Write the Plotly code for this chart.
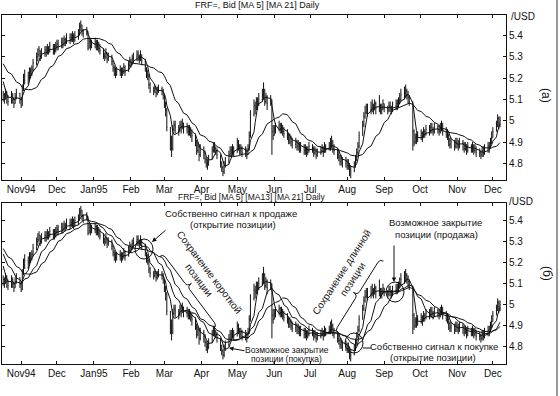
import pandas as pd
import plotly.graph_objects as go

# ---------------- data (USD/FRF daily) ----------------
# closes before the visible window (only used to start the moving averages)
close_pre = [5.31, 5.32, 5.30, 5.33, 5.31, 5.30, 5.29, 5.31, 5.28, 5.29,
             5.29, 5.30, 5.28, 5.27, 5.26, 5.25, 5.23, 5.21, 5.19, 5.17]

close = [
    5.12, 5.10, 5.13, 5.11, 5.09,  5.12, 5.10, 5.08, 5.11, 5.13,
    5.10, 5.07, 5.15, 5.19, 5.21,  5.20, 5.23, 5.22, 5.24, 5.27,
    5.30, 5.31, 5.33, 5.30, 5.32,  5.33, 5.32, 5.34, 5.33, 5.35,
    5.34, 5.33, 5.35, 5.36, 5.35,  5.37, 5.36, 5.38, 5.37, 5.39,
    5.38, 5.39, 5.40, 5.38, 5.40,  5.41, 5.44, 5.45, 5.42, 5.41,
    5.42, 5.34, 5.37, 5.35, 5.36,  5.37, 5.35, 5.36, 5.34, 5.33,
    5.31, 5.30, 5.32, 5.29, 5.30,  5.28, 5.25, 5.24, 5.22, 5.23,
    5.24, 5.22, 5.23, 5.25, 5.23,  5.26, 5.28, 5.27, 5.29, 5.30,
    5.31, 5.30, 5.29, 5.31, 5.28,  5.25, 5.22, 5.21, 5.17, 5.15,
    5.14, 5.15, 5.13, 5.14, 5.15,  5.14, 5.12, 5.08, 5.05, 4.97,
    4.90, 4.87, 4.96, 4.98, 4.97,  4.95, 4.98, 4.97, 4.99, 4.96,
    4.97, 4.95, 4.96, 4.94, 4.93,  4.90, 4.86, 4.88, 4.84, 4.87,
    4.85, 4.82, 4.80, 4.79, 4.82,  4.86, 4.88, 4.87, 4.86, 4.84,
    4.80, 4.78, 4.76, 4.79, 4.81,  4.84, 4.86, 4.85, 4.87, 4.85,
    4.90, 4.88, 4.86, 4.87, 4.85,  4.86, 4.84, 4.87, 4.93, 5.03,
    5.07, 5.06, 5.09, 5.08, 5.10,  5.12, 5.14, 5.09, 5.11, 5.08,
    5.10, 4.95, 4.93, 4.96, 4.97,  4.98, 4.96, 4.97, 4.95, 4.94,
    4.93, 4.91, 4.92, 4.90, 4.89,  4.90, 4.88, 4.89, 4.87, 4.88,
    4.86, 4.87, 4.85, 4.86, 4.88,  4.87, 4.85, 4.86, 4.84, 4.85,
    4.86, 4.87, 4.85, 4.88, 4.87,  4.88, 4.89, 4.90, 4.87, 4.86,
    4.84, 4.83, 4.81, 4.82, 4.80,  4.81, 4.79, 4.80, 4.77, 4.76,
    4.79, 4.82, 4.85, 4.88, 4.93,  4.98, 5.02, 5.04, 5.06, 5.05,
    5.06, 5.07, 5.05, 5.08, 5.06,  5.07, 5.05, 5.06, 5.08, 5.06,
    5.05, 5.07, 5.06, 5.05, 5.07,  5.08, 5.07, 5.09, 5.10, 5.12,
    5.13, 5.14, 5.12, 5.11, 5.09,  4.95, 4.90, 4.92, 4.91, 4.93,
    4.94, 4.92, 4.95, 4.94, 4.96,  4.95, 4.97, 4.96, 4.95, 4.97,
    4.96, 4.95, 4.97, 4.98, 4.96,  4.95, 4.93, 4.91, 4.89, 4.90,
    4.88, 4.90, 4.89, 4.88, 4.90,  4.89, 4.87, 4.88, 4.86, 4.88,
    4.87, 4.88, 4.86, 4.87, 4.85,  4.85, 4.84, 4.86, 4.85, 4.87,
    4.88, 4.87, 4.90, 4.92, 4.95,  4.98, 5.01, 4.99, 5.00,
]

high = [
    5.14, 5.13, 5.15, 5.14, 5.12,  5.14, 5.13, 5.11, 5.13, 5.15,
    5.13, 5.11, 5.17, 5.22, 5.24,  5.23, 5.25, 5.25, 5.26, 5.29,
    5.32, 5.34, 5.35, 5.33, 5.34,  5.35, 5.35, 5.36, 5.35, 5.37,
    5.36, 5.36, 5.37, 5.38, 5.38,  5.39, 5.39, 5.40, 5.39, 5.41,
    5.41, 5.41, 5.42, 5.41, 5.42,  5.43, 5.46, 5.47, 5.45, 5.43,
    5.44, 5.42, 5.39, 5.38, 5.38,  5.39, 5.38, 5.38, 5.37, 5.36,
    5.34, 5.32, 5.34, 5.32, 5.32,  5.31, 5.28, 5.26, 5.25, 5.25,
    5.26, 5.25, 5.25, 5.27, 5.26,  5.28, 5.30, 5.29, 5.31, 5.32,
    5.33, 5.33, 5.31, 5.33, 5.31,  5.29, 5.25, 5.24, 5.22, 5.18,
    5.16, 5.17, 5.16, 5.16, 5.17,  5.16, 5.15, 5.12, 5.09, 5.06,
    4.97, 4.93, 4.98, 5.00, 5.00,  4.98, 5.00, 5.00, 5.01, 4.99,
    4.99, 4.98, 4.98, 4.97, 4.96,  4.94, 4.91, 4.90, 4.89, 4.89,
    4.88, 4.86, 4.83, 4.82, 4.84,  4.88, 4.90, 4.90, 4.88, 4.87,
    4.84, 4.81, 4.79, 4.81, 4.83,  4.86, 4.88, 4.88, 4.89, 4.88,
    4.92, 4.91, 4.89, 4.89, 4.88,  4.88, 4.87, 4.89, 4.95, 5.05,
    5.10, 5.09, 5.11, 5.11, 5.13,  5.15, 5.18, 5.15, 5.13, 5.12,
    5.12, 5.10, 4.98, 4.98, 4.99,  5.00, 4.99, 4.99, 4.98, 4.97,
    4.96, 4.94, 4.94, 4.93, 4.92,  4.92, 4.91, 4.91, 4.90, 4.90,
    4.89, 4.89, 4.88, 4.88, 4.90,  4.89, 4.88, 4.88, 4.87, 4.87,
    4.88, 4.89, 4.88, 4.90, 4.89,  4.90, 4.92, 4.93, 4.91, 4.89,
    4.87, 4.86, 4.84, 4.84, 4.83,  4.83, 4.82, 4.82, 4.80, 4.79,
    4.81, 4.84, 4.87, 4.90, 4.95,  5.00, 5.04, 5.07, 5.08, 5.08,
    5.09, 5.10, 5.08, 5.10, 5.09,  5.12, 5.08, 5.08, 5.10, 5.08,
    5.07, 5.09, 5.09, 5.07, 5.09,  5.10, 5.10, 5.11, 5.13, 5.15,
    5.16, 5.17, 5.15, 5.14, 5.12,  5.09, 4.96, 4.94, 4.94, 4.95,
    4.96, 4.95, 4.97, 4.96, 4.98,  4.98, 4.99, 4.99, 4.97, 4.99,
    4.98, 4.98, 4.99, 5.00, 4.99,  4.97, 4.96, 4.94, 4.92, 4.92,
    4.91, 4.92, 4.92, 4.91, 4.92,  4.91, 4.90, 4.90, 4.89, 4.90,
    4.89, 4.90, 4.89, 4.89, 4.88,  4.87, 4.86, 4.88, 4.88, 4.89,
    4.90, 4.90, 4.92, 4.95, 4.97,  5.00, 5.03, 5.02, 5.02,
]

low = [
    5.09, 5.08, 5.10, 5.08, 5.07,  5.08, 5.08, 5.06, 5.08, 5.10,
    5.08, 5.06, 5.07, 5.14, 5.17,  5.17, 5.19, 5.20, 5.21, 5.23,
    5.26, 5.28, 5.30, 5.28, 5.29,  5.30, 5.30, 5.31, 5.31, 5.32,
    5.31, 5.31, 5.32, 5.33, 5.33,  5.34, 5.34, 5.35, 5.35, 5.36,
    5.36, 5.37, 5.37, 5.36, 5.37,  5.38, 5.40, 5.42, 5.40, 5.39,
    5.40, 5.33, 5.34, 5.33, 5.34,  5.34, 5.33, 5.33, 5.32, 5.31,
    5.29, 5.28, 5.29, 5.27, 5.28,  5.26, 5.23, 5.21, 5.20, 5.21,
    5.21, 5.20, 5.21, 5.22, 5.21,  5.23, 5.25, 5.25, 5.26, 5.27,
    5.28, 5.28, 5.27, 5.28, 5.26,  5.23, 5.20, 5.19, 5.15, 5.13,
    5.12, 5.13, 5.11, 5.12, 5.13,  5.12, 5.10, 5.06, 5.02, 4.95,
    4.86, 4.83, 4.86, 4.95, 4.94,  4.93, 4.95, 4.94, 4.96, 4.94,
    4.94, 4.93, 4.93, 4.92, 4.90,  4.88, 4.84, 4.85, 4.81, 4.83,
    4.82, 4.80, 4.78, 4.77, 4.79,  4.82, 4.85, 4.85, 4.84, 4.82,
    4.78, 4.76, 4.74, 4.75, 4.78,  4.80, 4.83, 4.83, 4.84, 4.83,
    4.85, 4.86, 4.84, 4.84, 4.83,  4.83, 4.82, 4.84, 4.86, 4.92,
    5.02, 5.03, 5.05, 5.05, 5.07,  5.09, 5.10, 5.07, 5.08, 5.05,
    5.07, 4.84, 4.91, 4.93, 4.94,  4.95, 4.94, 4.94, 4.93, 4.92,
    4.91, 4.89, 4.89, 4.88, 4.87,  4.87, 4.86, 4.86, 4.85, 4.85,
    4.84, 4.84, 4.83, 4.84, 4.85,  4.85, 4.83, 4.84, 4.82, 4.83,
    4.84, 4.85, 4.83, 4.85, 4.85,  4.86, 4.86, 4.87, 4.85, 4.84,
    4.82, 4.81, 4.79, 4.79, 4.78,  4.78, 4.77, 4.77, 4.74, 4.73,
    4.76, 4.78, 4.81, 4.84, 4.87,  4.93, 4.97, 5.01, 5.03, 5.02,
    5.03, 5.04, 5.03, 5.05, 5.03,  5.04, 5.03, 5.03, 5.05, 5.04,
    5.03, 5.04, 5.04, 5.03, 5.04,  5.05, 5.05, 5.06, 5.08, 5.09,
    5.10, 5.11, 5.10, 5.08, 5.07,  4.86, 4.88, 4.89, 4.89, 4.90,
    4.91, 4.90, 4.92, 4.92, 4.93,  4.93, 4.94, 4.94, 4.93, 4.94,
    4.94, 4.93, 4.94, 4.95, 4.93,  4.92, 4.91, 4.88, 4.87, 4.87,
    4.86, 4.87, 4.87, 4.86, 4.87,  4.86, 4.85, 4.86, 4.84, 4.85,
    4.85, 4.85, 4.84, 4.85, 4.83,  4.83, 4.82, 4.83, 4.83, 4.84,
    4.85, 4.85, 4.87, 4.89, 4.92,  4.95, 4.97, 4.96, 4.97,
]

month_ticks = ["1994-11-01", "1994-12-01", "1995-01-01", "1995-02-01", "1995-03-01",
               "1995-04-01", "1995-05-01", "1995-06-01", "1995-07-01", "1995-08-01",
               "1995-09-01", "1995-10-01", "1995-11-01", "1995-12-01"]
month_labels = ["Nov94", "Dec", "Jan95", "Feb", "Mar", "Apr", "May", "Jun",
                "Jul", "Aug", "Sep", "Oct", "Nov", "Dec"]
price_ticks = [4.8, 4.9, 5.0, 5.1, 5.2, 5.3, 5.4]
price_labels = ["4.8", "4.9", "5", "5.1", "5.2", "5.3", "5.4"]

# ---------------- derived series ----------------
npre = len(close_pre)
all_dates = pd.bdate_range("1994-09-19", periods=npre + len(close))
s = pd.Series(close_pre + close, index=all_dates)
dates = all_dates[npre:]
opens = s.shift(1).iloc[npre:].values
ma = {n: s.rolling(n).mean().iloc[npre:].values for n in (5, 13, 21)}

INK = "#111111"
FONT = "Liberation Sans, Arial, Helvetica, sans-serif"

fig = go.Figure()


def add_panel(xa, ya, windows):
    fig.add_trace(go.Ohlc(
        x=dates, open=opens, high=high, low=low, close=close,
        xaxis=xa, yaxis=ya, tickwidth=0.4, showlegend=False, hoverinfo="skip",
        increasing=dict(line=dict(color=INK, width=1)),
        decreasing=dict(line=dict(color=INK, width=1)),
    ))
    for n in windows:
        fig.add_trace(go.Scatter(
            x=dates, y=ma[n], mode="lines", xaxis=xa, yaxis=ya,
            line=dict(color=INK, width=1), showlegend=False, hoverinfo="skip",
        ))


add_panel("x", "y", (5, 21))
add_panel("x2", "y2", (5, 13, 21))

# ---------------- layout ----------------
W, H = 560, 396
ML, MR, MT, MB = 2, 54, 15, 32
PW, PH = W - ML - MR, H - MT - MB


def PX(x):
    return (x - ML) / PW


def PY(y):
    return (H - MB - y) / PH


xcommon = dict(
    type="date", range=["1994-10-16", "1995-12-12"],
    tickmode="array", tickvals=month_ticks, ticktext=month_labels, tickangle=0,
    ticks="inside", ticklen=3, tickcolor=INK, showline=True, linecolor=INK,
    linewidth=1, mirror="ticks", showgrid=False, zeroline=False,
    rangeslider=dict(visible=False), tickfont=dict(family=FONT, size=10, color=INK),
)
ycommon = dict(
    side="right", tickmode="array", tickvals=price_ticks, ticktext=price_labels,
    ticks="inside", ticklen=3, tickcolor=INK, showline=True, linecolor=INK,
    linewidth=1, mirror="ticks", showgrid=False, zeroline=False,
    tickfont=dict(family=FONT, size=10, color=INK),
)

fig.update_layout(
    width=W, height=H, margin=dict(l=ML, r=MR, t=MT, b=MB, autoexpand=False),
    paper_bgcolor="white", plot_bgcolor="white",
    font=dict(family=FONT, color=INK), showlegend=False, hovermode=False,
    xaxis=dict(**xcommon, domain=[0, 1], anchor="y"),
    xaxis2=dict(**xcommon, domain=[0, 1], anchor="y2"),
    yaxis=dict(**ycommon, domain=[PY(180), 1], range=[4.722, 5.496], anchor="x"),
    yaxis2=dict(**ycommon, domain=[0, PY(203)], range=[4.718, 5.484], anchor="x2"),
)

ann = []


def text(x, y, t, size=9.5, angle=0, xanchor="center"):
    ann.append(dict(x=PX(x), y=PY(y), xref="paper", yref="paper", text=t,
                    showarrow=False, textangle=angle, xanchor=xanchor, yanchor="middle",
                    font=dict(family=FONT, size=size, color=INK)))


def arrow(hx, hy, tx, ty):
    ann.append(dict(x=PX(hx), y=PY(hy), xref="paper", yref="paper", text="",
                    showarrow=True, ax=tx - hx, ay=ty - hy, arrowhead=2,
                    arrowsize=0.9, arrowwidth=1, arrowcolor=INK))


text(257, 5, "FRF=, Bid [MA 5] [MA 21] Daily", 9)
text(251, 197.5, "FRF=, Bid [MA 5] [MA13] [MA 21] Daily", 8.5)
text(509, 17, "/USD", 10, xanchor="left")
text(507, 201, "/USD", 10, xanchor="left")
text(546, 95, "(а)", 12, angle=90)
text(547, 273, "(б)", 12, angle=90)

text(231, 213, "Собственно сигнал к продаже", 9.5)
text(233, 224, "(открытие позиции)", 9.5)
arrow(152, 242, 167, 229)
text(204, 276, "Сохранение короткой<br>позиции", 10, angle=53)
text(287, 350, "Возможное закрытие", 8.5)
text(286, 359, "позиции (покупка)", 8.5)
arrow(229, 348, 246, 351)
text(435, 223, "Возможное закрытие", 9.5)
text(436, 234, "позиции (продажа)", 9.5)
arrow(394, 282, 394, 244)
text(347, 276, "Сохранение длинной<br>позиции", 10, angle=-57)
text(434, 346, "Собственно сигнал к покупке", 9.5)
text(433, 357, "(открытие позиции)", 9.5)

shapes = []


def circle(cx, cy, rx, ry):
    shapes.append(dict(type="circle", xref="paper", yref="paper",
                       x0=PX(cx - rx), x1=PX(cx + rx), y0=PY(cy + ry), y1=PY(cy - ry),
                       line=dict(color=INK, width=1)))


def brace(p0, p1, n, h=4.0, nub=5.0, t=0.5):
    dx, dy = p1[0] - p0[0], p1[1] - p0[1]
    L = (dx * dx + dy * dy) ** 0.5
    d = (dx / L, dy / L)
    m = (p0[0] + dx * t, p0[1] + dy * t)

    def pt(p, a=0.0, b=0.0):
        x = p[0] + d[0] * a + n[0] * b
        y = p[1] + d[1] * a + n[1] * b
        return f"{PX(x):.5f},{PY(y):.5f}"
    path = (f"M {pt(p0, 0, -h)} Q {pt(p0)} {pt(p0, h, 0)} L {pt(m, -h, 0)} "
            f"Q {pt(m)} {pt(m, 0, nub)} Q {pt(m)} {pt(m, h, 0)} "
            f"L {pt(p1, -h, 0)} Q {pt(p1)} {pt(p1, 0, -h)}")
    shapes.append(dict(type="path", xref="paper", yref="paper", path=path,
                       line=dict(color=INK, width=1)))


circle(144, 249, 9, 10)
circle(395, 292, 9, 10)
circle(354, 343, 9, 10)
brace((163, 254), (217, 326), (0.804, -0.595), t=0.45)
brace((335, 331), (380, 259), (-0.848, -0.53), t=0.5)
shapes.append(dict(type="line", xref="paper", yref="paper",
                   x0=PX(363), x1=PX(371), y0=PY(348), y1=PY(348),
                   line=dict(color=INK, width=1)))
shapes.append(dict(type="line", xref="paper", yref="paper",
                   x0=PX(557), x1=PX(557), y0=PY(0), y1=PY(396),
                   line=dict(color="#333333", width=1)))

fig.update_layout(annotations=ann, shapes=shapes)
fig.write_html(
    "out.html",
    config={"displayModeBar": False},
    post_script="document.body.style.margin='0';document.body.style.padding='0';",
)
